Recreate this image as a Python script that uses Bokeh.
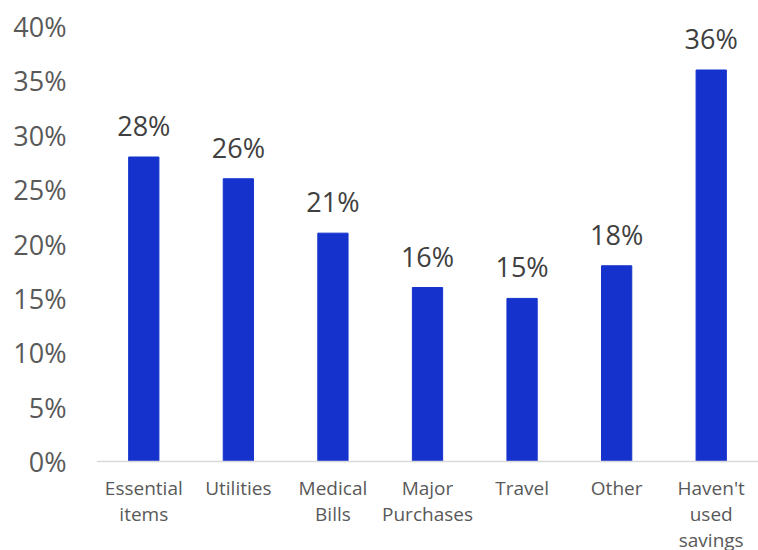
from bokeh.plotting import figure
from bokeh.models import ColumnDataSource, FactorRange, NumeralTickFormatter, FixedTicker, LabelSet, Span
from bokeh.core.properties import value
from bokeh.embed import file_html
from bokeh.resources import INLINE

categories = ["Essential items", "Utilities", "Medical Bills", "Major Purchases", "Travel", "Other", "Haven't used savings"]
tick_labels = ["Essential\nitems", "Utilities", "Medical\nBills", "Major\nPurchases", "Travel", "Other", "Haven't\nused\nsavings"]
values = [0.28, 0.26, 0.21, 0.16, 0.15, 0.18, 0.36]
value_labels = ["28%", "26%", "21%", "16%", "15%", "18%", "36%"]
y_ticks = [0, 0.05, 0.10, 0.15, 0.20, 0.25, 0.30, 0.35, 0.40]

FONT = "Open Sans"

source = ColumnDataSource(dict(cat=categories, val=values, lab=value_labels,
                               tick=tick_labels, zero=[0] * len(categories)))

p = figure(x_range=FactorRange(*categories), y_range=(-0.0818, 0.40),
           width=758, height=550, output_backend="svg", toolbar_location=None,
           min_border_left=96, min_border_right=0, min_border_top=26, min_border_bottom=0)
p.x_range.range_padding = 0

p.vbar(x="cat", top="val", width=0.32, source=source, color="#1533CC")

p.add_layout(Span(location=0, dimension="width", line_color="#d9d9d9", line_width=1.5))

labels = LabelSet(x="cat", y="val", text="lab", source=source, text_align="center",
                  text_baseline="bottom", y_offset=13, text_font=value(FONT),
                  text_font_size="27px", text_color="#404040")
p.add_layout(labels)

p.text(x="cat", y="zero", text="tick", source=source, text_align="center",
       text_baseline="top", y_offset=13, text_font=value(FONT),
       text_font_size="19px", text_color="#595959", text_line_height=1.0)

p.yaxis.ticker = FixedTicker(ticks=y_ticks)
p.yaxis.formatter = NumeralTickFormatter(format="0%")
p.yaxis.axis_line_color = None
p.yaxis.major_tick_line_color = None
p.yaxis.minor_tick_line_color = None
p.yaxis.major_tick_out = 0
p.yaxis.major_tick_in = 0
p.yaxis.major_label_text_font = FONT
p.yaxis.major_label_text_font_size = "27px"
p.yaxis.major_label_text_color = "#595959"
p.yaxis.major_label_standoff = 30

p.xaxis.visible = False

p.xgrid.grid_line_color = None
p.ygrid.grid_line_color = None
p.outline_line_color = None

open("out.html", "w").write(file_html(p, INLINE))
